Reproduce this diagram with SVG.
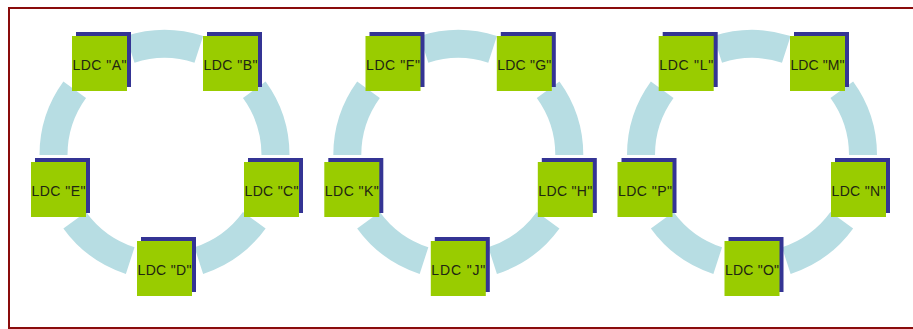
<svg xmlns="http://www.w3.org/2000/svg" width="913" height="329" viewBox="0 0 913 329">
<style>
.arc{fill:none;stroke:#b7dde3;stroke-width:28;stroke-linecap:butt}
.sh{fill:#343494}
.bx{fill:#99cc00}
.lb{font-family:"Liberation Sans",Arial,sans-serif;font-size:14px;fill:#1e2612;text-anchor:middle}
</style>
<rect width="913" height="329" fill="#ffffff"/>
<rect x="9" y="8" width="912" height="320" fill="none" stroke="#8a0c0c" stroke-width="2"/>
<defs>
<g id="ring">
<path class="arc" d="M-34.3,-105.6 A111,111 0 0 1 34.3,-105.6"/>
<path class="arc" d="M89.8,-65.2 A111,111 0 0 1 111,0"/>
<path class="arc" d="M89.8,65.2 A111,111 0 0 1 34.3,105.6"/>
<path class="arc" d="M-34.3,105.6 A111,111 0 0 1 -89.8,65.2"/>
<path class="arc" d="M-111,0 A111,111 0 0 1 -89.8,-65.2"/>
</g>
</defs>
<g id="connectors">
<use href="#ring" x="164.5" y="155"/>
<use href="#ring" x="458.3" y="155"/>
<use href="#ring" x="752" y="155"/>
</g>
<g id="nodeA"><rect class="sh" x="76" y="32" width="55" height="55"/><rect class="bx" x="72" y="36" width="55" height="55"/><text class="lb" x="99.5" y="70" textLength="54">LDC "A"</text></g>
<g id="nodeB"><rect class="sh" x="207" y="32" width="55" height="55"/><rect class="bx" x="203" y="36" width="55" height="55"/><text class="lb" x="230.5" y="70" textLength="54">LDC "B"</text></g>
<g id="nodeC"><rect class="sh" x="248" y="158" width="55" height="55"/><rect class="bx" x="244" y="162" width="55" height="55"/><text class="lb" x="271.5" y="196" textLength="54">LDC "C"</text></g>
<g id="nodeD"><rect class="sh" x="141" y="237" width="55" height="55"/><rect class="bx" x="137" y="241" width="55" height="55"/><text class="lb" x="164.5" y="275" textLength="54">LDC "D"</text></g>
<g id="nodeE"><rect class="sh" x="35" y="158" width="55" height="55"/><rect class="bx" x="31" y="162" width="55" height="55"/><text class="lb" x="58.5" y="196" textLength="54">LDC "E"</text></g>
<g id="nodeF"><rect class="sh" x="369.5" y="32" width="55" height="55"/><rect class="bx" x="365.5" y="36" width="55" height="55"/><text class="lb" x="393" y="70" textLength="54">LDC "F"</text></g>
<g id="nodeG"><rect class="sh" x="500.8" y="32" width="55" height="55"/><rect class="bx" x="496.8" y="36" width="55" height="55"/><text class="lb" x="524.3" y="70" textLength="54">LDC "G"</text></g>
<g id="nodeH"><rect class="sh" x="541.8" y="158" width="55" height="55"/><rect class="bx" x="537.8" y="162" width="55" height="55"/><text class="lb" x="565.3" y="196" textLength="54">LDC "H"</text></g>
<g id="nodeJ"><rect class="sh" x="434.8" y="237" width="55" height="55"/><rect class="bx" x="430.8" y="241" width="55" height="55"/><text class="lb" x="458.3" y="275" textLength="54">LDC "J"</text></g>
<g id="nodeK"><rect class="sh" x="328.3" y="158" width="55" height="55"/><rect class="bx" x="324.3" y="162" width="55" height="55"/><text class="lb" x="351.8" y="196" textLength="54">LDC "K"</text></g>
<g id="nodeL"><rect class="sh" x="662.7" y="32" width="55" height="55"/><rect class="bx" x="658.7" y="36" width="55" height="55"/><text class="lb" x="686.2" y="70" textLength="54">LDC "L"</text></g>
<g id="nodeM"><rect class="sh" x="794" y="32" width="55" height="55"/><rect class="bx" x="790" y="36" width="55" height="55"/><text class="lb" x="817.5" y="70" textLength="54">LDC "M"</text></g>
<g id="nodeN"><rect class="sh" x="835" y="158" width="55" height="55"/><rect class="bx" x="831" y="162" width="55" height="55"/><text class="lb" x="858.5" y="196" textLength="54">LDC "N"</text></g>
<g id="nodeO"><rect class="sh" x="728.5" y="237" width="55" height="55"/><rect class="bx" x="724.5" y="241" width="55" height="55"/><text class="lb" x="752" y="275" textLength="54">LDC "O"</text></g>
<g id="nodeP"><rect class="sh" x="621.5" y="158" width="55" height="55"/><rect class="bx" x="617.5" y="162" width="55" height="55"/><text class="lb" x="645" y="196" textLength="54">LDC "P"</text></g>
</svg>
